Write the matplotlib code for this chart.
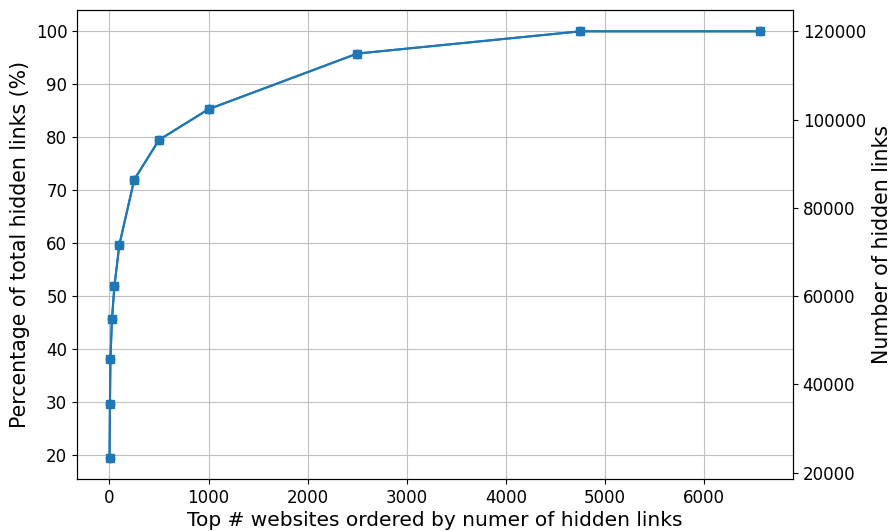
import matplotlib.pyplot as plt

# Top-N websites and their share / count of hidden links
top_n = [1, 5, 10, 25, 50, 100, 250, 500, 1000, 2500, 4750, 6566]
pct_links = [19.5, 29.6, 38.1, 45.6, 51.9, 59.7, 72.0, 79.5, 85.3, 95.8, 100.0, 100.0]
num_links = [23400, 35520, 45720, 54720, 62280, 71640, 86400, 95400, 102360, 114960, 120000, 120000]

fig = plt.figure(figsize=(8.92, 5.31), dpi=100)
ax1 = fig.add_axes([77 / 892, (531 - 479) / 531, (793 - 77) / 892, (479 - 10) / 531])

ax1.plot(top_n, pct_links, marker="o", color="C0")
ax1.set_xlabel("Top # websites ordered by numer of hidden links", fontsize=14.5, labelpad=3)
ax1.set_ylabel("Percentage of total hidden links (%)", fontsize=14.8)
ax1.tick_params(labelsize=12)
ax1.grid(True, color="#c0c0c0")

ax2 = ax1.twinx()
ax2.plot(top_n, num_links, marker="s", color="C0")
ax2.set_ylabel("Number of hidden links", fontsize=14.8)
ax2.tick_params(labelsize=12)

fig.savefig("out.png", dpi=100)
